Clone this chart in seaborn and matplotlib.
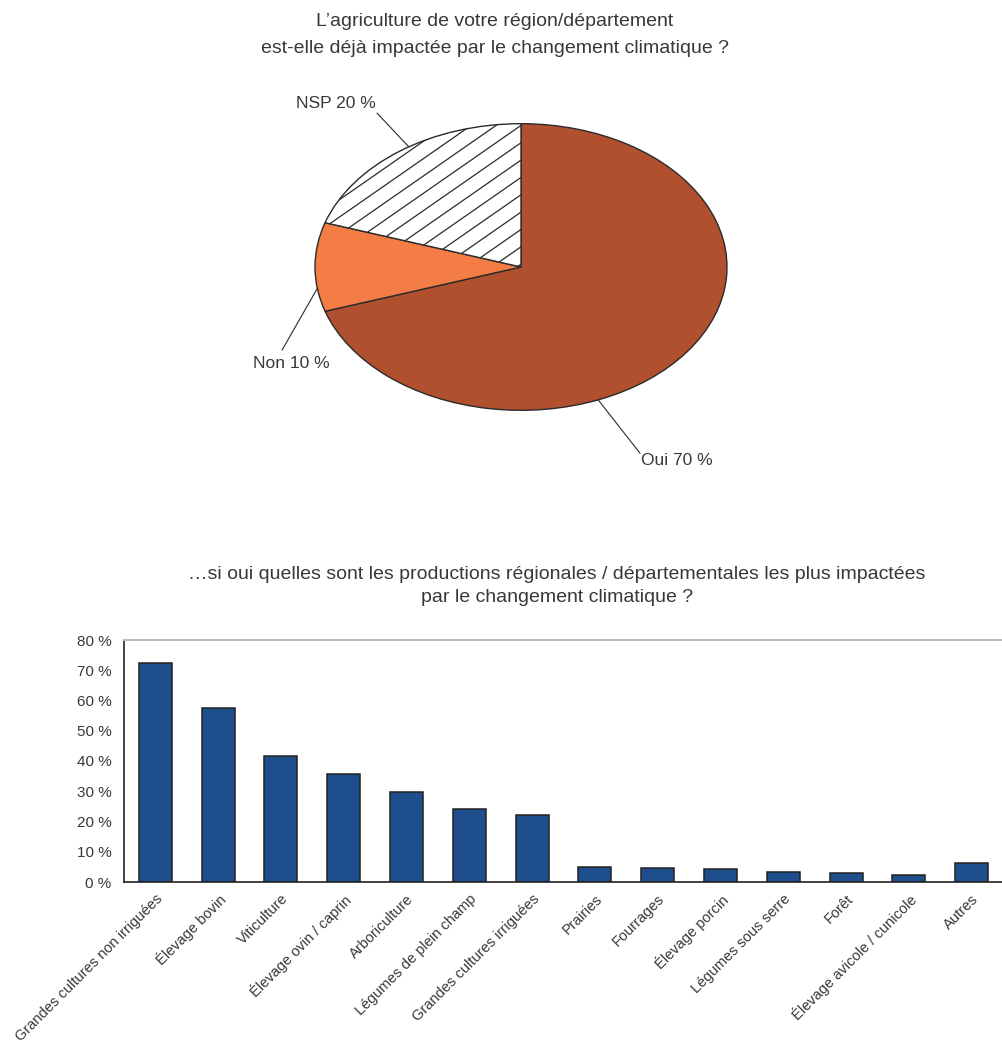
import numpy as np
import pandas as pd
import matplotlib
matplotlib.use("Agg")
import matplotlib.pyplot as plt
import seaborn as sns

# Pie: is agriculture already impacted by climate change?
pie_labels = ["Oui", "Non", "NSP"]
pie_values = [70, 10, 20]
pie_colors = ["#B0502E", "#F47D46", "#FFFFFF"]

# Bars: most impacted productions (% of "oui" answers)
productions = [
    "Grandes cultures non irriguées",
    "Élevage bovin",
    "Viticulture",
    "Élevage ovin / caprin",
    "Arboriculture",
    "Légumes de plein champ",
    "Grandes cultures irriguées",
    "Prairies",
    "Fourrages",
    "Élevage porcin",
    "Légumes sous serre",
    "Forêt",
    "Élevage avicole / cunicole",
    "Autres",
]
shares = [72.3, 57.5, 41.5, 35.8, 29.6, 24.2, 22.2, 5.0, 4.5, 4.2, 3.3, 2.9, 2.4, 6.2]
y_ticks = [0, 10, 20, 30, 40, 50, 60, 70, 80]

pie_title = "L\u2019agriculture de votre région/département\nest-elle déjà impactée par le changement climatique ?"
bar_title = ("\u2026si oui quelles sont les productions régionales / départementales les plus impactées\n"
             "par le changement climatique ?")

sns.set_style("white")
plt.rcParams["font.family"] = ["Liberation Sans", "DejaVu Sans"]
TEXT = "#383838"
EDGE = "#2b2b2b"

W, H = 1003, 1046
fig = plt.figure(figsize=(W / 100, H / 100), dpi=100)

# ---------------- pie (drawn as an ellipse) ----------------
cx, cy, rx, ry = 521, 267, 206, 143.3
ax_pie = fig.add_axes([(cx - 1.25 * rx) / W, (H - cy - 1.25 * ry) / H, 2.5 * rx / W, 2.5 * ry / H])
wedges, _ = ax_pie.pie(pie_values, colors=pie_colors, startangle=90, counterclock=False,
                       wedgeprops=dict(edgecolor=EDGE, linewidth=1.0))
ax_pie.set_aspect("auto")
ax_pie.set_xlim(-1.25, 1.25)
ax_pie.set_ylim(-1.25, 1.25)
ax_pie.axis("off")

# diagonal hatching on the NSP slice
for c in np.arange(-2.4, 2.4, 0.121):
    ln, = ax_pie.plot([-1.3, 1.3], [-1.3 + c, 1.3 + c], color=EDGE, lw=0.9, zorder=3)
    ln.set_clip_path(wedges[2])

# leader lines and labels
label_layout = {
    "Oui": (-68, (0.578, -1.30), (0.583, -1.347), "left"),
    "Non": (188.6, (-1.16, -0.58), (-0.927, -0.67), "right"),
    "NSP": (123, (-0.699, 1.074), (-0.704, 1.144), "right"),
}
for lab, val in zip(pie_labels, pie_values):
    ang, end, tpos, ha = label_layout[lab]
    a = np.deg2rad(ang)
    ax_pie.plot([np.cos(a), end[0]], [np.sin(a), end[1]], color=EDGE, lw=0.8, clip_on=False)
    ax_pie.text(tpos[0], tpos[1], f"{lab} {val} %", ha=ha, va="center",
                fontsize=12.5, color=TEXT, clip_on=False)

fig.text(495 / W, 1 - 35 / H, pie_title, ha="center", va="center",
         fontsize=14, color=TEXT, linespacing=1.75)

# ---------------- bar chart ----------------
ax_bar = fig.add_axes([124 / W, (H - 882) / H, 879 / W, 242 / H])
df = pd.DataFrame({"production": productions, "part": shares})
sns.barplot(data=df, x="production", y="part", color="#1F4E8F", saturation=1,
            width=0.525, edgecolor="#222222", linewidth=1.1, ax=ax_bar)
ax_bar.set_xlim(-0.5, len(productions) - 0.5)
ax_bar.set_ylim(0, 80)
ax_bar.set_yticks(y_ticks)
ax_bar.set_yticklabels([f"{t} %" for t in y_ticks], fontsize=11, color=TEXT)
ax_bar.set_xticks(range(len(productions)))
ax_bar.set_xticklabels(productions, rotation=45, ha="right", va="top", rotation_mode="anchor",
                       fontsize=10.5, color=TEXT)
ax_bar.set_xlabel("")
ax_bar.set_ylabel("")
ax_bar.tick_params(axis="y", length=0, pad=9)
ax_bar.tick_params(axis="x", length=0, pad=7)
for side in ("left", "bottom"):
    ax_bar.spines[side].set_color("#222222")
    ax_bar.spines[side].set_linewidth(1.2)
ax_bar.spines["top"].set_color("#bbbbbb")
ax_bar.spines["top"].set_linewidth(1.5)
ax_bar.spines["right"].set_visible(False)

fig.text(557 / W, 1 - 586 / H, bar_title, ha="center", va="center",
         fontsize=14, color=TEXT, linespacing=1.45)

fig.savefig("out.png", dpi=100)
